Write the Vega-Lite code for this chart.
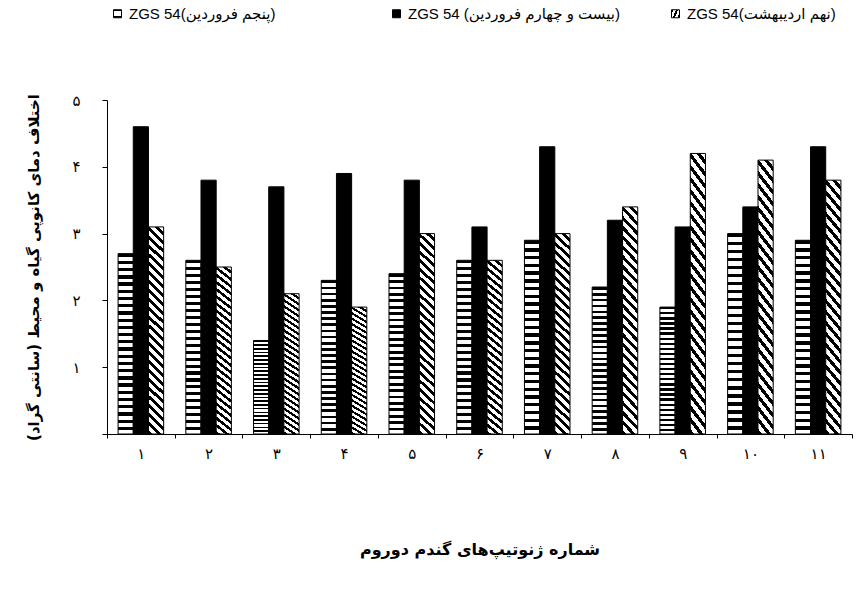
{
  "$schema": "https://vega.github.io/schema/vega-lite/v6.json",
  "autosize": "none",
  "width": 745,
  "height": 334,
  "padding": {"left": 107, "top": 100, "right": 6, "bottom": 170},
  "background": "white",
  "params": [
    {"name": "gH", "value": {"gradient": "linear", "x1": 0, "y1": 0, "x2": 0, "y2": 1, "stops": [
      {"offset":0,"color":"#000"},{"offset":0.018,"color":"#000"},{"offset":0.018,"color":"#fff"},{"offset":0.04,"color":"#fff"},
      {"offset":0.04,"color":"#000"},{"offset":0.058,"color":"#000"},{"offset":0.058,"color":"#fff"},{"offset":0.08,"color":"#fff"},
      {"offset":0.08,"color":"#000"},{"offset":0.098,"color":"#000"},{"offset":0.098,"color":"#fff"},{"offset":0.12,"color":"#fff"},
      {"offset":0.12,"color":"#000"},{"offset":0.138,"color":"#000"},{"offset":0.138,"color":"#fff"},{"offset":0.16,"color":"#fff"},
      {"offset":0.16,"color":"#000"},{"offset":0.178,"color":"#000"},{"offset":0.178,"color":"#fff"},{"offset":0.2,"color":"#fff"},
      {"offset":0.2,"color":"#000"},{"offset":0.218,"color":"#000"},{"offset":0.218,"color":"#fff"},{"offset":0.24,"color":"#fff"},
      {"offset":0.24,"color":"#000"},{"offset":0.258,"color":"#000"},{"offset":0.258,"color":"#fff"},{"offset":0.28,"color":"#fff"},
      {"offset":0.28,"color":"#000"},{"offset":0.298,"color":"#000"},{"offset":0.298,"color":"#fff"},{"offset":0.32,"color":"#fff"},
      {"offset":0.32,"color":"#000"},{"offset":0.338,"color":"#000"},{"offset":0.338,"color":"#fff"},{"offset":0.36,"color":"#fff"},
      {"offset":0.36,"color":"#000"},{"offset":0.378,"color":"#000"},{"offset":0.378,"color":"#fff"},{"offset":0.4,"color":"#fff"},
      {"offset":0.4,"color":"#000"},{"offset":0.418,"color":"#000"},{"offset":0.418,"color":"#fff"},{"offset":0.44,"color":"#fff"},
      {"offset":0.44,"color":"#000"},{"offset":0.458,"color":"#000"},{"offset":0.458,"color":"#fff"},{"offset":0.48,"color":"#fff"},
      {"offset":0.48,"color":"#000"},{"offset":0.498,"color":"#000"},{"offset":0.498,"color":"#fff"},{"offset":0.52,"color":"#fff"},
      {"offset":0.52,"color":"#000"},{"offset":0.538,"color":"#000"},{"offset":0.538,"color":"#fff"},{"offset":0.56,"color":"#fff"},
      {"offset":0.56,"color":"#000"},{"offset":0.578,"color":"#000"},{"offset":0.578,"color":"#fff"},{"offset":0.6,"color":"#fff"},
      {"offset":0.6,"color":"#000"},{"offset":0.618,"color":"#000"},{"offset":0.618,"color":"#fff"},{"offset":0.64,"color":"#fff"},
      {"offset":0.64,"color":"#000"},{"offset":0.658,"color":"#000"},{"offset":0.658,"color":"#fff"},{"offset":0.68,"color":"#fff"},
      {"offset":0.68,"color":"#000"},{"offset":0.698,"color":"#000"},{"offset":0.698,"color":"#fff"},{"offset":0.72,"color":"#fff"},
      {"offset":0.72,"color":"#000"},{"offset":0.738,"color":"#000"},{"offset":0.738,"color":"#fff"},{"offset":0.76,"color":"#fff"},
      {"offset":0.76,"color":"#000"},{"offset":0.778,"color":"#000"},{"offset":0.778,"color":"#fff"},{"offset":0.8,"color":"#fff"},
      {"offset":0.8,"color":"#000"},{"offset":0.818,"color":"#000"},{"offset":0.818,"color":"#fff"},{"offset":0.84,"color":"#fff"},
      {"offset":0.84,"color":"#000"},{"offset":0.858,"color":"#000"},{"offset":0.858,"color":"#fff"},{"offset":0.88,"color":"#fff"},
      {"offset":0.88,"color":"#000"},{"offset":0.898,"color":"#000"},{"offset":0.898,"color":"#fff"},{"offset":0.92,"color":"#fff"},
      {"offset":0.92,"color":"#000"},{"offset":0.938,"color":"#000"},{"offset":0.938,"color":"#fff"},{"offset":0.96,"color":"#fff"},
      {"offset":0.96,"color":"#000"},{"offset":0.978,"color":"#000"},{"offset":0.978,"color":"#fff"},{"offset":1,"color":"#fff"}
    ]}},
    {"name": "gD", "value": {"gradient": "linear", "x1": 0, "y1": 1, "x2": 0.0761, "y2": -0.066, "stops": [
      {"offset":0,"color":"#000"},{"offset":0.018,"color":"#000"},{"offset":0.018,"color":"#fff"},{"offset":0.04,"color":"#fff"},
      {"offset":0.04,"color":"#000"},{"offset":0.058,"color":"#000"},{"offset":0.058,"color":"#fff"},{"offset":0.08,"color":"#fff"},
      {"offset":0.08,"color":"#000"},{"offset":0.098,"color":"#000"},{"offset":0.098,"color":"#fff"},{"offset":0.12,"color":"#fff"},
      {"offset":0.12,"color":"#000"},{"offset":0.138,"color":"#000"},{"offset":0.138,"color":"#fff"},{"offset":0.16,"color":"#fff"},
      {"offset":0.16,"color":"#000"},{"offset":0.178,"color":"#000"},{"offset":0.178,"color":"#fff"},{"offset":0.2,"color":"#fff"},
      {"offset":0.2,"color":"#000"},{"offset":0.218,"color":"#000"},{"offset":0.218,"color":"#fff"},{"offset":0.24,"color":"#fff"},
      {"offset":0.24,"color":"#000"},{"offset":0.258,"color":"#000"},{"offset":0.258,"color":"#fff"},{"offset":0.28,"color":"#fff"},
      {"offset":0.28,"color":"#000"},{"offset":0.298,"color":"#000"},{"offset":0.298,"color":"#fff"},{"offset":0.32,"color":"#fff"},
      {"offset":0.32,"color":"#000"},{"offset":0.338,"color":"#000"},{"offset":0.338,"color":"#fff"},{"offset":0.36,"color":"#fff"},
      {"offset":0.36,"color":"#000"},{"offset":0.378,"color":"#000"},{"offset":0.378,"color":"#fff"},{"offset":0.4,"color":"#fff"},
      {"offset":0.4,"color":"#000"},{"offset":0.418,"color":"#000"},{"offset":0.418,"color":"#fff"},{"offset":0.44,"color":"#fff"},
      {"offset":0.44,"color":"#000"},{"offset":0.458,"color":"#000"},{"offset":0.458,"color":"#fff"},{"offset":0.48,"color":"#fff"},
      {"offset":0.48,"color":"#000"},{"offset":0.498,"color":"#000"},{"offset":0.498,"color":"#fff"},{"offset":0.52,"color":"#fff"},
      {"offset":0.52,"color":"#000"},{"offset":0.538,"color":"#000"},{"offset":0.538,"color":"#fff"},{"offset":0.56,"color":"#fff"},
      {"offset":0.56,"color":"#000"},{"offset":0.578,"color":"#000"},{"offset":0.578,"color":"#fff"},{"offset":0.6,"color":"#fff"},
      {"offset":0.6,"color":"#000"},{"offset":0.618,"color":"#000"},{"offset":0.618,"color":"#fff"},{"offset":0.64,"color":"#fff"},
      {"offset":0.64,"color":"#000"},{"offset":0.658,"color":"#000"},{"offset":0.658,"color":"#fff"},{"offset":0.68,"color":"#fff"},
      {"offset":0.68,"color":"#000"},{"offset":0.698,"color":"#000"},{"offset":0.698,"color":"#fff"},{"offset":0.72,"color":"#fff"},
      {"offset":0.72,"color":"#000"},{"offset":0.738,"color":"#000"},{"offset":0.738,"color":"#fff"},{"offset":0.76,"color":"#fff"},
      {"offset":0.76,"color":"#000"},{"offset":0.778,"color":"#000"},{"offset":0.778,"color":"#fff"},{"offset":0.8,"color":"#fff"},
      {"offset":0.8,"color":"#000"},{"offset":0.818,"color":"#000"},{"offset":0.818,"color":"#fff"},{"offset":0.84,"color":"#fff"},
      {"offset":0.84,"color":"#000"},{"offset":0.858,"color":"#000"},{"offset":0.858,"color":"#fff"},{"offset":0.88,"color":"#fff"},
      {"offset":0.88,"color":"#000"},{"offset":0.898,"color":"#000"},{"offset":0.898,"color":"#fff"},{"offset":0.92,"color":"#fff"},
      {"offset":0.92,"color":"#000"},{"offset":0.938,"color":"#000"},{"offset":0.938,"color":"#fff"},{"offset":0.96,"color":"#fff"},
      {"offset":0.96,"color":"#000"},{"offset":0.978,"color":"#000"},{"offset":0.978,"color":"#fff"},{"offset":1,"color":"#fff"}
    ]}}
  ],
  "data": {"values": [
    {"genotype": "۱", "series": "ZGS 54(پنجم فروردین)", "value": 2.7},
    {"genotype": "۱", "series": "ZGS 54 (بیست و چهارم فروردین)", "value": 4.6},
    {"genotype": "۱", "series": "ZGS 54(نهم اردیبهشت)", "value": 3.1},
    {"genotype": "۲", "series": "ZGS 54(پنجم فروردین)", "value": 2.6},
    {"genotype": "۲", "series": "ZGS 54 (بیست و چهارم فروردین)", "value": 3.8},
    {"genotype": "۲", "series": "ZGS 54(نهم اردیبهشت)", "value": 2.5},
    {"genotype": "۳", "series": "ZGS 54(پنجم فروردین)", "value": 1.4},
    {"genotype": "۳", "series": "ZGS 54 (بیست و چهارم فروردین)", "value": 3.7},
    {"genotype": "۳", "series": "ZGS 54(نهم اردیبهشت)", "value": 2.1},
    {"genotype": "۴", "series": "ZGS 54(پنجم فروردین)", "value": 2.3},
    {"genotype": "۴", "series": "ZGS 54 (بیست و چهارم فروردین)", "value": 3.9},
    {"genotype": "۴", "series": "ZGS 54(نهم اردیبهشت)", "value": 1.9},
    {"genotype": "۵", "series": "ZGS 54(پنجم فروردین)", "value": 2.4},
    {"genotype": "۵", "series": "ZGS 54 (بیست و چهارم فروردین)", "value": 3.8},
    {"genotype": "۵", "series": "ZGS 54(نهم اردیبهشت)", "value": 3.0},
    {"genotype": "۶", "series": "ZGS 54(پنجم فروردین)", "value": 2.6},
    {"genotype": "۶", "series": "ZGS 54 (بیست و چهارم فروردین)", "value": 3.1},
    {"genotype": "۶", "series": "ZGS 54(نهم اردیبهشت)", "value": 2.6},
    {"genotype": "۷", "series": "ZGS 54(پنجم فروردین)", "value": 2.9},
    {"genotype": "۷", "series": "ZGS 54 (بیست و چهارم فروردین)", "value": 4.3},
    {"genotype": "۷", "series": "ZGS 54(نهم اردیبهشت)", "value": 3.0},
    {"genotype": "۸", "series": "ZGS 54(پنجم فروردین)", "value": 2.2},
    {"genotype": "۸", "series": "ZGS 54 (بیست و چهارم فروردین)", "value": 3.2},
    {"genotype": "۸", "series": "ZGS 54(نهم اردیبهشت)", "value": 3.4},
    {"genotype": "۹", "series": "ZGS 54(پنجم فروردین)", "value": 1.9},
    {"genotype": "۹", "series": "ZGS 54 (بیست و چهارم فروردین)", "value": 3.1},
    {"genotype": "۹", "series": "ZGS 54(نهم اردیبهشت)", "value": 4.2},
    {"genotype": "۱۰", "series": "ZGS 54(پنجم فروردین)", "value": 3.0},
    {"genotype": "۱۰", "series": "ZGS 54 (بیست و چهارم فروردین)", "value": 3.4},
    {"genotype": "۱۰", "series": "ZGS 54(نهم اردیبهشت)", "value": 4.1},
    {"genotype": "۱۱", "series": "ZGS 54(پنجم فروردین)", "value": 2.9},
    {"genotype": "۱۱", "series": "ZGS 54 (بیست و چهارم فروردین)", "value": 4.3},
    {"genotype": "۱۱", "series": "ZGS 54(نهم اردیبهشت)", "value": 3.8}
  ]},
  "mark": {"type": "bar", "stroke": "#000", "strokeWidth": 1},
  "encoding": {
    "x": {
      "field": "genotype", "type": "nominal", "sort": null,
      "scale": {"paddingInner": 0, "paddingOuter": 0},
      "axis": {
        "title": "شماره ژنوتیپ‌های گندم دوروم",
        "titleFontSize": 16, "titleFontWeight": "bold", "titlePadding": 80,
        "labelAngle": 0, "labelFontSize": 15, "labelPadding": 8,
        "tickBand": "extent", "tickSize": 4
      }
    },
    "xOffset": {
      "field": "series", "type": "nominal", "sort": null,
      "scale": {"domain": ["ZGS 54(پنجم فروردین)", "ZGS 54 (بیست و چهارم فروردین)", "ZGS 54(نهم اردیبهشت)"], "paddingInner": 0, "paddingOuter": 0.73}
    },
    "y": {
      "field": "value", "type": "quantitative",
      "scale": {"domain": [0, 5], "nice": false},
      "axis": {
        "title": "اختلاف دمای کانوپی گیاه و محیط (سانتی گراد)",
        "titleFontSize": 15, "titleFontWeight": "bold", "titlePadding": 30,
        "values": [0, 1, 2, 3, 4, 5],
        "labelExpr": "['', '۱', '۲', '۳', '۴', '۵'][datum.value]",
        "labelFontSize": 15, "labelPadding": 22, "tickSize": 5, "grid": false
      }
    },
    "color": {
      "field": "series", "type": "nominal", "sort": null,
      "scale": {
        "domain": ["ZGS 54(پنجم فروردین)", "ZGS 54 (بیست و چهارم فروردین)", "ZGS 54(نهم اردیبهشت)"],
        "range": [{"expr": "gH"}, "#000", {"expr": "gD"}]
      },
      "legend": {
        "orient": "none", "legendX": 3, "legendY": -94, "direction": "horizontal",
        "title": null, "symbolType": "square", "symbolSize": 64,
        "symbolStrokeColor": "#000", "symbolStrokeWidth": 1,
        "labelFontSize": 15, "labelLimit": 2000,
        "gridAlign": "all", "columnPadding": 48
      }
    }
  },
  "config": {
    "font": "Liberation Sans, DejaVu Sans",
    "view": {"stroke": null},
    "axis": {"domainColor": "#000", "tickColor": "#000", "labelColor": "#000", "titleColor": "#000", "labelFont": "DejaVu Sans", "titleFont": "DejaVu Sans"},
    "legend": {"labelColor": "#000", "labelFont": "Liberation Sans, DejaVu Sans"}
  }
}
